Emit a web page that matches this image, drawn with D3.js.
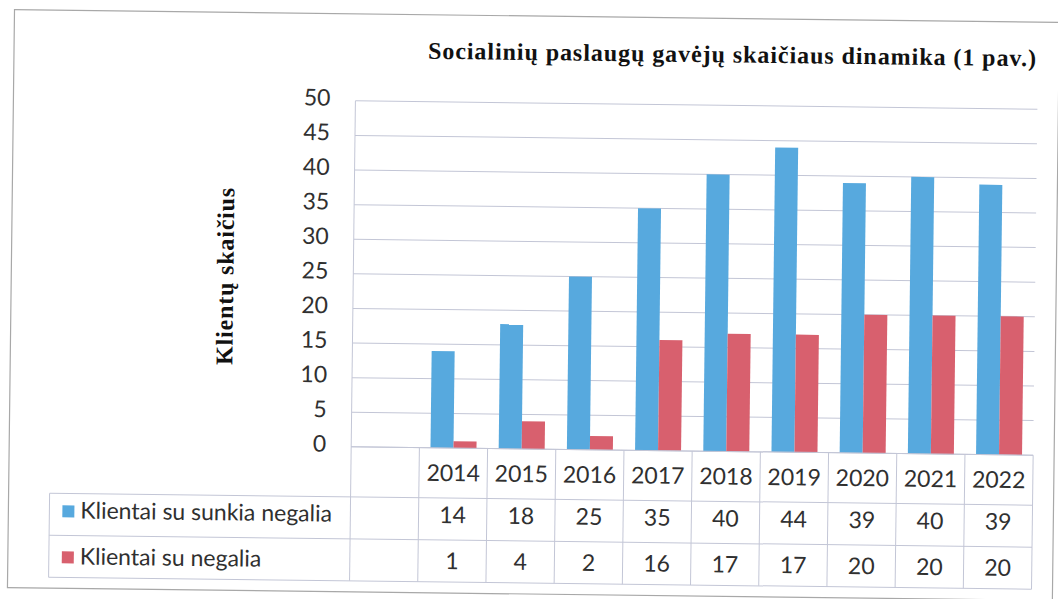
<!DOCTYPE html>
<html>
<head>
<meta charset="utf-8">
<script src="https://cdn.jsdelivr.net/npm/d3@7"></script>
<style>
	html, body { margin: 0; padding: 0; background: #fff; }
	svg { display: block; }
</style>
</head>
<body>
<svg id="chart" width="1058" height="599"></svg>
<script>
(function(){
	'use strict';

	// data (first category is the empty column of the original table)
	var years = ['', '2014', '2015', '2016', '2017', '2018', '2019', '2020', '2021', '2022'];
	var sunkia = [null, 14, 18, 25, 35, 40, 44, 39, 40, 39];
	var negalia = [null, 1, 4, 2, 16, 17, 17, 20, 20, 20];
	var seriesNames = ['Klientai su sunkia negalia', 'Klientai su negalia'];
	var yTicks = [0, 5, 10, 15, 20, 25, 30, 35, 40, 45, 50];
	var title = 'Socialinių paslaugų gavėjų skaičiaus dinamika (1 pav.)';
	var yTitle = 'Klientų skaičius';

	var colors = ['#57a9de', '#d8606e'];
	var gridColor = '#c3c6d6';
	var textColor = '#303030';
	var labelFont = 'Lato, "Open Sans", sans-serif';
	var serifFont = '"Liberation Serif", "Times New Roman", serif';
	var labelSize = '23px';

	var svg = d3.select('#chart');
	// scanned page is a little tilted
	var g = svg.append('g').attr('transform', 'rotate(0.7,529,300)');

	var plot = { left: 353, right: 1035, top: 103, bottom: 449 };
	var tableLeft = 52;
	var rowLines = [449, 499, 541, 583];

	var x = d3.scaleBand().domain(years).range([plot.left, plot.right]).padding(0);
	var y = d3.scaleLinear().domain([0, 50]).range([plot.bottom, plot.top]);
	var barW = 23;

	// outer frame
	g.append('rect')
		.attr('x', 11).attr('y', 16)
		.attr('width', 1045).attr('height', 578)
		.attr('fill', 'none')
		.attr('stroke', '#a8a8a8')
		.attr('stroke-width', 1.2);

	// title
	g.append('text')
		.text(title)
		.attr('x', 425)
		.attr('y', 60)
		.attr('font-family', serifFont)
		.attr('font-weight', 'bold')
		.attr('font-size', '24px')
		.attr('textLength', 608)
		.attr('lengthAdjust', 'spacing')
		.attr('fill', '#111');

	// y axis title
	g.append('text')
		.text(yTitle)
		.attr('transform', 'translate(233,280) rotate(-90)')
		.attr('text-anchor', 'middle')
		.attr('font-family', serifFont)
		.attr('font-weight', 'bold')
		.attr('font-size', '24px')
		.attr('textLength', 177)
		.attr('lengthAdjust', 'spacing')
		.attr('fill', '#111');

	// gridlines
	g.append('g')
		.selectAll('line')
		.data(yTicks)
		.enter().append('line')
		.attr('x1', plot.left).attr('x2', plot.right)
		.attr('y1', function(d){ return y(d); })
		.attr('y2', function(d){ return y(d); })
		.attr('stroke', gridColor)
		.attr('stroke-width', 1);

	// y tick labels
	var yAxis = d3.axisLeft(y).tickValues(yTicks).tickSize(0).tickPadding(25);
	var ya = g.append('g').attr('transform', 'translate(' + plot.left + ',0)').call(yAxis);
	ya.select('.domain').remove();
	ya.selectAll('text')
		.attr('font-family', labelFont)
		.attr('font-size', labelSize)
		.attr('fill', textColor)
		.attr('dy', '0.2em');

	// bars
	var series = [sunkia, negalia];
	series.forEach(function(vals, si){
		g.append('g')
			.selectAll('rect')
			.data(years.map(function(yr, i){ return { year: yr, v: vals[i] }; })
				.filter(function(d){ return d.v !== null; }))
			.enter().append('rect')
			.attr('x', function(d){ return x(d.year) + (x.bandwidth() - 2 * barW) / 2 + si * barW; })
			.attr('y', function(d){ return y(d.v); })
			.attr('width', barW)
			.attr('height', function(d){ return y(0) - y(d.v); })
			.attr('fill', colors[si]);
	});

	// data table lines
	var tbl = g.append('g').attr('stroke', gridColor).attr('stroke-width', 1);
	// left border of plot / table
	tbl.append('line')
		.attr('x1', plot.left).attr('x2', plot.left)
		.attr('y1', plot.top).attr('y2', rowLines[3]);
	// horizontal row lines
	rowLines.forEach(function(ry, i){
		tbl.append('line')
			.attr('x1', i === 0 ? plot.left : tableLeft)
			.attr('x2', plot.right)
			.attr('y1', ry).attr('y2', ry);
	});
	tbl.append('line')
		.attr('x1', tableLeft).attr('x2', tableLeft)
		.attr('y1', rowLines[1]).attr('y2', rowLines[3]);
	// column separators
	tbl.selectAll('line.col')
		.data(years)
		.enter().append('line')
		.attr('class', 'col')
		.attr('x1', function(d){ return x(d) + x.bandwidth(); })
		.attr('x2', function(d){ return x(d) + x.bandwidth(); })
		.attr('y1', rowLines[0]).attr('y2', rowLines[3]);

	// year labels
	g.append('g')
		.selectAll('text')
		.data(years)
		.enter().append('text')
		.text(function(d){ return d; })
		.attr('x', function(d){ return x(d) + x.bandwidth() / 2; })
		.attr('y', 482)
		.attr('text-anchor', 'middle')
		.attr('font-family', labelFont)
		.attr('font-size', labelSize)
		.attr('fill', textColor);

	// table rows
	var baselines = [524, 570];
	series.forEach(function(vals, si){
		var row = g.append('g');
		row.append('rect')
			.attr('x', 65).attr('y', baselines[si] - 13)
			.attr('width', 12).attr('height', 12)
			.attr('fill', colors[si]);
		row.append('text')
			.text(seriesNames[si])
			.attr('x', 83).attr('y', baselines[si])
			.attr('font-family', labelFont)
			.attr('font-size', labelSize)
			.attr('fill', textColor);
		row.selectAll('text.val')
			.data(years.map(function(yr, i){ return { year: yr, v: vals[i] }; }))
			.enter().append('text')
			.attr('class', 'val')
			.text(function(d){ return d.v === null ? '' : d.v; })
			.attr('x', function(d){ return x(d.year) + x.bandwidth() / 2; })
			.attr('y', baselines[si])
			.attr('text-anchor', 'middle')
			.attr('font-family', labelFont)
			.attr('font-size', labelSize)
			.attr('fill', textColor);
	});

})();
</script>
</body>
</html>
